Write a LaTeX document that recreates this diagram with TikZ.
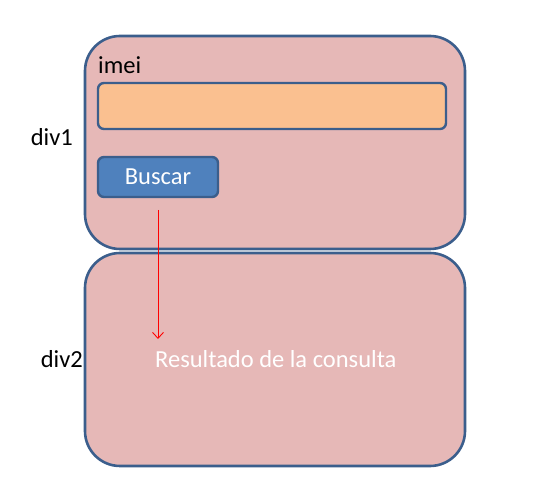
\documentclass[tikz,border=0pt]{standalone}
\usepackage{fontspec}
\setmainfont{Carlito}
\usetikzlibrary{arrows.meta}
\definecolor{divfill}{HTML}{E6B8B7}
\definecolor{divline}{HTML}{3B5E8C}
\definecolor{inputfill}{HTML}{FAC090}
\definecolor{btnfill}{HTML}{4F81BD}

\begin{document}
\begin{tikzpicture}[x=1pt,y=-1pt,
  point/.style={coordinate},
  panel/.style={draw=divline, fill=divfill, line width=2.6pt, rounded corners=35pt, rectangle, minimum width=380pt, minimum height=213pt, inner sep=0pt},
  field/.style={draw=divline, fill=inputfill, line width=2.4pt, rounded corners=6pt, rectangle, minimum width=348pt, minimum height=46pt, inner sep=0pt},
  button/.style={draw=divline, fill=btnfill, line width=2.4pt, rounded corners=6pt, rectangle, minimum width=120pt, minimum height=40pt, inner sep=0pt, text=white},
  label/.style={font=\fontsize{24.5}{29}\selectfont, inner sep=0pt}]
\useasboundingbox (0,0) rectangle (542,481);
\node[panel] (div1) at (275,142.5) {};
\node[panel] (div2) at (275,359.5) {};
\node[label, anchor=west] (imei) at (98,65) {imei};
\node[field] (imeibox) at (272,106) {};
\node[button, font=\fontsize{24.5}{29}\selectfont] (buscar) at (158,177) {Buscar};
\node[label, anchor=east] (div1lbl) at (73,137) {div1};
\node[label, anchor=east] (div2lbl) at (83,359) {div2};
\node[label, anchor=west, text=white] (resultado) at (155,359) {Resultado de la consulta};
\node[point] (a0) at (158,210) {};
\node[point] (a1) at (158,339) {};
\draw[red, line width=0.9pt, -{Straight Barb[length=6pt,width=11pt]}] (a0) -- (a1);
\end{tikzpicture}
\end{document}
